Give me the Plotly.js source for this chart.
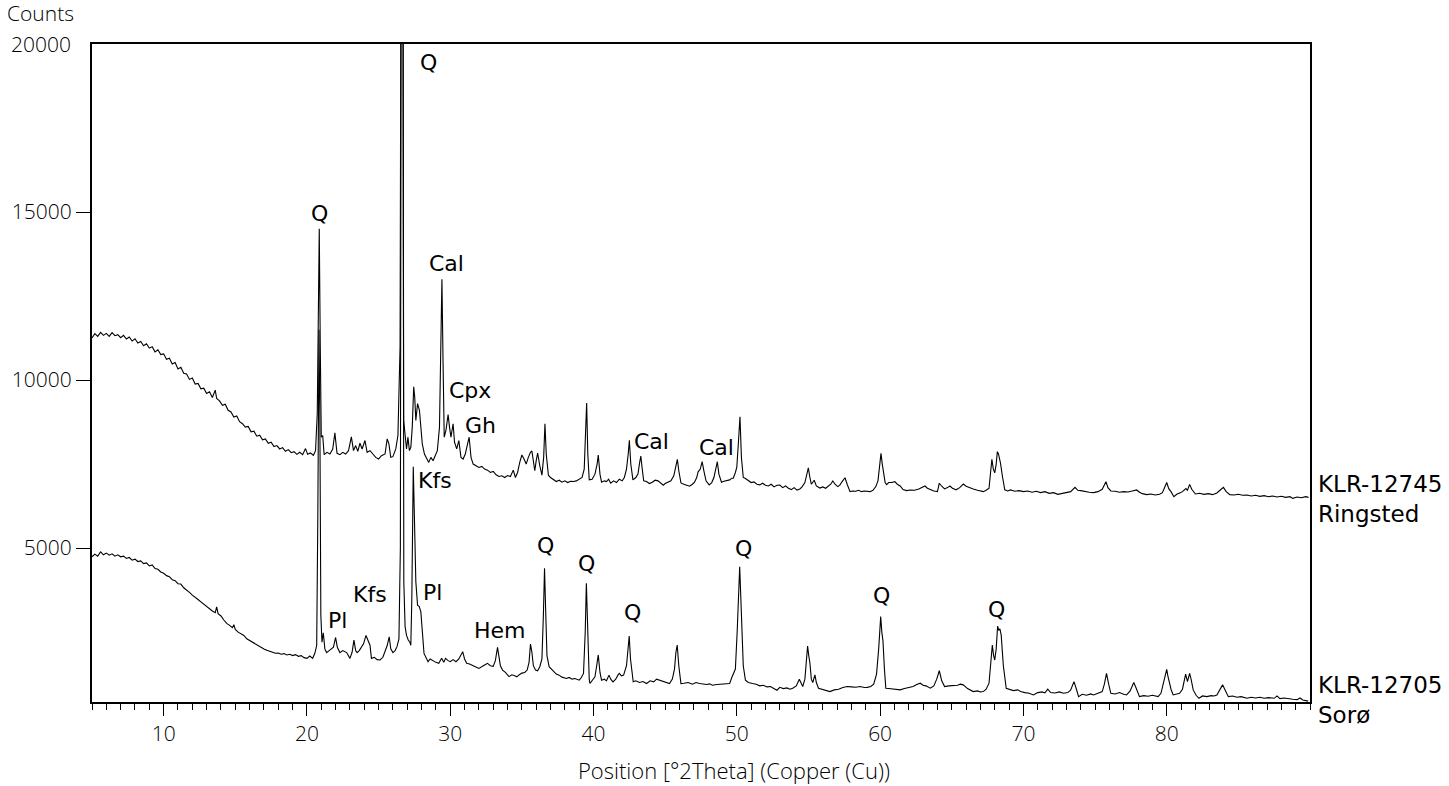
<!DOCTYPE html>
<html>
<head>
<meta charset="utf-8">
<script src="https://cdn.plot.ly/plotly-3.0.1.min.js"></script>
<style>
  html, body { margin: 0; padding: 0; background: #fff; }
  #xrd { width: 1449px; height: 786px; }
</style>
</head>
<body>
<div id="xrd"></div>
<script>
// Ringsted scan (KLR-12745), [2theta, counts]
let ringsted = [
  [5.0,11250],[5.2,11380],[5.4,11300],[5.6,11420],[5.8,11330],[6.0,11390],[6.2,11300],[6.4,11410],
  [6.6,11320],[6.8,11350],[7.0,11260],[7.2,11330],[7.4,11220],[7.6,11280],[7.8,11160],[8.0,11230],
  [8.2,11100],[8.4,11150],[8.6,11020],[8.8,11080],[9.0,10950],[9.2,10990],[9.4,10840],[9.6,10900],
  [9.8,10760],[10.0,10780],[10.2,10620],[10.4,10650],[10.6,10480],[10.8,10520],[11.0,10330],[11.2,10380],
  [11.4,10200],[11.6,10180],[11.8,10020],[12.0,10060],[12.2,9880],[12.4,9900],[12.6,9740],[12.8,9760],
  [13.0,9600],[13.2,9650],[13.4,9480],[13.6,9700],[13.7,9450],[13.9,9380],[14.1,9250],[14.3,9280],
  [14.5,9100],[14.7,9050],[14.9,8900],[15.1,8930],[15.3,8760],[15.5,8700],[15.7,8600],[15.9,8620],
  [16.1,8460],[16.3,8480],[16.5,8330],[16.7,8360],[16.9,8220],[17.1,8250],[17.3,8120],[17.5,8150],
  [17.7,8020],[17.9,8050],[18.1,7950],[18.3,7990],[18.5,7880],[18.7,7930],[18.9,7840],[19.1,7870],
  [19.3,7790],[19.5,7850],[19.7,7780],[19.9,7960],[20.05,7790],[20.25,7830],[20.45,7760],[20.6,7900],
  [20.72,9000],[20.8,12500],[20.86,14500],[20.93,11000],[21.0,8300],[21.1,8350],[21.2,7780],[21.4,7850],
  [21.6,7800],[21.8,7950],[21.95,8430],[22.1,7820],[22.3,7780],[22.5,7850],[22.7,7800],[22.9,7900],
  [23.1,8310],[23.25,7900],[23.4,8050],[23.55,7880],[23.7,8120],[23.85,7950],[24.05,8200],[24.2,7850],
  [24.4,7900],[24.6,7800],[24.8,7700],[25.0,7650],[25.2,7750],[25.45,7800],[25.6,8250],[25.72,8100],
  [25.85,7700],[26.0,7720],[26.2,7950],[26.35,8350],[26.5,11000],[26.6,30000],[26.68,30000],[26.75,8800],
  [26.85,8400],[26.95,7950],[27.05,8300],[27.15,7900],[27.25,8000],[27.35,8600],[27.45,9800],[27.52,9500],
  [27.6,8800],[27.72,9300],[27.85,9100],[27.95,8500],[28.05,8100],[28.2,7800],[28.35,7650],[28.5,7550],
  [28.65,7700],[28.8,7600],[28.95,7750],[29.1,7900],[29.25,8600],[29.36,11500],[29.42,13000],[29.5,10500],
  [29.58,8300],[29.7,8500],[29.85,8970],[29.95,8600],[30.05,8300],[30.2,8700],[30.3,8150],[30.45,7950],
  [30.6,8200],[30.75,7700],[30.9,7650],[31.05,7800],[31.2,8100],[31.32,8300],[31.45,7700],[31.6,7500],
  [31.8,7450],[32.0,7400],[32.2,7430],[32.4,7350],[32.6,7320],[32.8,7250],[33.0,7280],[33.2,7180],
  [33.4,7130],[33.6,7150],[33.8,7100],[34.0,7160],[34.2,7130],[34.4,7320],[34.55,7100],[34.7,7250],
  [34.85,7550],[35.0,7770],[35.15,7650],[35.3,7500],[35.45,7700],[35.6,7850],[35.7,7890],[35.82,7500],
  [35.9,7300],[36.0,7600],[36.1,7830],[36.25,7450],[36.4,7170],[36.52,7700],[36.61,8700],[36.7,7800],
  [36.85,7170],[37.0,7100],[37.2,7050],[37.4,6980],[37.6,7020],[37.8,6960],[38.0,7000],[38.2,6950],
  [38.4,6990],[38.6,6980],[38.8,7000],[39.0,7060],[39.2,7100],[39.35,7350],[39.45,8500],[39.52,9320],
  [39.6,7800],[39.7,7030],[39.9,7050],[40.1,7200],[40.25,7500],[40.33,7770],[40.45,7200],[40.56,6960],
  [40.75,7000],[40.9,6980],[41.05,7050],[41.2,6930],[41.4,7000],[41.6,6950],[41.8,7050],[42.0,7000],
  [42.15,7100],[42.3,7350],[42.42,7800],[42.5,8210],[42.6,7500],[42.75,7030],[42.95,7100],[43.1,7200],
  [43.22,7550],[43.3,7740],[43.4,7350],[43.5,7000],[43.7,6980],[43.9,6920],[44.1,6960],[44.3,7020],
  [44.5,7000],[44.7,6930],[44.87,6870],[45.0,6920],[45.2,6970],[45.4,7000],[45.6,7150],[45.75,7400],
  [45.85,7640],[45.95,7300],[46.1,6940],[46.3,6900],[46.5,6870],[46.7,6840],[46.9,6900],[47.05,6960],
  [47.2,7100],[47.3,7270],[47.45,7350],[47.58,7570],[47.7,7300],[47.85,7000],[48.07,6880],[48.25,6950],
  [48.4,7100],[48.55,7400],[48.64,7570],[48.75,7200],[48.93,6960],[49.1,6990],[49.3,7000],[49.5,7030],
  [49.65,7080],[49.75,7080],[49.9,7250],[50.0,7410],[50.12,8200],[50.22,8910],[50.32,7700],[50.45,7100],
  [50.6,7070],[50.8,7000],[51.0,6950],[51.2,6970],[51.4,6900],[51.6,6880],[51.8,6930],[52.0,6870],
  [52.2,6850],[52.4,6900],[52.6,6820],[52.8,6870],[53.0,6876],[53.2,6800],[53.4,6850],[53.6,6780],
  [53.8,6740],[54.0,6800],[54.2,6727],[54.4,6760],[54.55,6820],[54.75,6950],[54.9,7250],[54.99,7390],
  [55.1,7100],[55.2,6900],[55.4,7020],[55.55,6850],[55.8,6786],[56.0,6820],[56.2,6780],[56.4,6850],
  [56.55,6900],[56.7,6995],[56.85,6900],[57.05,6830],[57.2,6880],[57.35,6980],[57.55,7094],[57.7,6900],
  [57.9,6680],[58.1,6700],[58.3,6690],[58.5,6720],[58.7,6680],[58.9,6700],[59.1,6690],[59.3,6680],
  [59.5,6720],[59.7,6830],[59.85,7000],[59.95,7500],[60.06,7820],[60.15,7500],[60.25,7200],[60.35,6950],
  [60.45,6890],[60.6,6950],[60.8,6950],[61.03,6975],[61.2,6900],[61.4,6850],[61.6,6740],[61.85,6710],
  [62.1,6730],[62.4,6720],[62.7,6760],[62.95,6800],[63.13,6847],[63.3,6780],[63.5,6740],[63.75,6700],
  [64.0,6680],[64.13,6930],[64.3,6840],[64.5,6760],[64.7,6800],[64.87,6847],[65.05,6780],[65.3,6735],
  [65.55,6800],[65.81,6906],[66.0,6840],[66.27,6785],[66.5,6760],[66.8,6720],[67.0,6700],[67.2,6680],
  [67.4,6720],[67.6,6780],[67.72,7300],[67.8,7640],[67.9,7350],[68.0,7240],[68.1,7500],[68.18,7870],
  [68.26,7800],[68.4,7530],[68.55,7100],[68.7,6735],[68.9,6700],[69.1,6730],[69.4,6690],[69.7,6710],
  [70.0,6680],[70.3,6700],[70.6,6660],[70.9,6690],[71.2,6650],[71.5,6680],[71.8,6630],[72.1,6650],
  [72.4,6600],[72.7,6630],[73.0,6640],[73.3,6680],[73.6,6806],[73.8,6720],[74.0,6710],[74.3,6680],
  [74.6,6660],[74.9,6650],[75.2,6680],[75.5,6750],[75.76,6975],[75.9,6800],[76.1,6700],[76.4,6690],
  [76.7,6660],[77.0,6680],[77.3,6670],[77.6,6700],[77.9,6730],[78.1,6660],[78.3,6620],[78.6,6590],
  [78.9,6610],[79.2,6580],[79.5,6600],[79.7,6650],[79.85,6800],[80.0,6950],[80.15,6760],[80.3,6680],
  [80.5,6530],[80.7,6600],[80.9,6640],[81.1,6680],[81.34,6770],[81.45,6720],[81.6,6896],[81.75,6750],
  [82.0,6610],[82.3,6630],[82.6,6600],[82.9,6620],[83.2,6590],[83.5,6640],[83.8,6750],[83.96,6806],
  [84.15,6680],[84.4,6590],[84.7,6580],[85.0,6600],[85.3,6570],[85.6,6580],[85.9,6550],[86.2,6570],
  [86.5,6540],[86.8,6560],[87.1,6530],[87.4,6550],[87.7,6520],[88.0,6540],[88.3,6510],[88.6,6530],
  [88.8,6480],[89.1,6520],[89.4,6500],[89.7,6530],[89.9,6510]
]

// Soro scan (KLR-12705)
let soro = [
  [5.0,4742],[5.2,4820],[5.4,4760],[5.6,4890],[5.8,4800],[6.0,4850],[6.2,4790],[6.4,4830],
  [6.6,4760],[6.8,4800],[7.0,4740],[7.2,4760],[7.4,4690],[7.6,4720],[7.8,4640],[8.0,4670],
  [8.2,4600],[8.4,4620],[8.6,4540],[8.8,4560],[9.0,4470],[9.2,4500],[9.4,4390],[9.6,4370],
  [9.8,4290],[10.0,4250],[10.2,4180],[10.4,4150],[10.6,4060],[10.8,4030],[11.0,3940],[11.2,3930],
  [11.4,3820],[11.6,3760],[11.8,3680],[12.0,3600],[12.2,3520],[12.4,3470],[12.6,3400],[12.8,3330],
  [13.0,3260],[13.2,3200],[13.4,3130],[13.6,3080],[13.7,3250],[13.8,3050],[14.0,2980],[14.2,2860],
  [14.4,2760],[14.6,2700],[14.8,2630],[14.9,2720],[15.0,2580],[15.2,2500],[15.4,2440],[15.6,2400],
  [15.8,2300],[16.0,2250],[16.2,2180],[16.4,2130],[16.6,2080],[16.8,2030],[17.0,2000],[17.2,1960],
  [17.4,1920],[17.6,1900],[17.8,1870],[18.0,1880],[18.2,1840],[18.4,1860],[18.6,1820],[18.8,1840],
  [19.0,1800],[19.2,1830],[19.4,1780],[19.6,1800],[19.8,1740],[20.0,1720],[20.2,1790],[20.4,1720],
  [20.55,1870],[20.68,2100],[20.76,6000],[20.84,11500],[20.9,9000],[20.97,3000],[21.05,2200],[21.14,2480],
  [21.25,2000],[21.37,1890],[21.55,1950],[21.7,2000],[21.85,2050],[22.0,2340],[22.12,2050],[22.3,1890],
  [22.5,1950],[22.77,1890],[23.0,1718],[23.15,1900],[23.28,2260],[23.4,1950],[23.5,1890],[23.65,1950],
  [23.8,2040],[23.95,2150],[24.12,2400],[24.25,2250],[24.4,2110],[24.5,1718],[24.7,1750],[24.9,1680],
  [25.1,1670],[25.3,1750],[25.44,1890],[25.6,2100],[25.74,2360],[25.85,2000],[26.0,1890],[26.15,1950],
  [26.28,2060],[26.42,2300],[26.52,5000],[26.6,30000],[26.68,30000],[26.76,4000],[26.85,2660],[26.95,2400],
  [27.07,2264],[27.18,2200],[27.25,2110],[27.32,3500],[27.42,7420],[27.5,6000],[27.6,4000],[27.72,3300],
  [27.84,3257],[27.95,3100],[28.05,2500],[28.17,1866],[28.3,1750],[28.45,1620],[28.6,1700],[28.8,1640],
  [29.0,1600],[29.2,1570],[29.4,1720],[29.55,1600],[29.67,1720],[29.85,1650],[30.0,1620],[30.2,1680],
  [30.4,1620],[30.6,1700],[30.75,1800],[30.87,1916],[31.0,1700],[31.15,1570],[31.35,1550],[31.55,1500],
  [31.75,1470],[32.0,1420],[32.2,1480],[32.4,1520],[32.6,1570],[32.8,1500],[33.0,1480],[33.15,1650],
  [33.3,2045],[33.4,1700],[33.5,1500],[33.65,1370],[33.85,1300],[34.1,1175],[34.3,1230],[34.5,1200],
  [34.65,1170],[34.8,1225],[35.0,1280],[35.2,1300],[35.37,1370],[35.5,1600],[35.6,2145],[35.7,1900],
  [35.8,1500],[35.95,1370],[36.1,1350],[36.25,1470],[36.4,1700],[36.5,3000],[36.58,4400],[36.66,3150],
  [36.75,1800],[36.9,1470],[37.05,1400],[37.2,1320],[37.4,1250],[37.6,1220],[37.8,1160],[38.1,1120],
  [38.3,1150],[38.5,1100],[38.7,1120],[39.0,1070],[39.15,1150],[39.3,1270],[39.42,2500],[39.5,3950],
  [39.58,2510],[39.7,1100],[39.75,970],[39.9,1050],[40.1,1170],[40.22,1500],[40.33,1820],[40.45,1300],
  [40.56,1070],[40.75,1100],[40.9,1050],[41.08,1220],[41.2,1100],[41.36,1020],[41.55,1100],[41.7,1220],
  [41.8,1270],[41.95,1200],[42.1,1220],[42.3,1500],[42.42,2000],[42.49,2380],[42.58,1700],[42.77,1020],
  [42.95,1050],[43.2,1000],[43.45,1030],[43.7,970],[43.95,1050],[44.2,1020],[44.4,1100],[44.6,1070],
  [44.85,1050],[45.05,1020],[45.3,970],[45.5,1100],[45.65,1400],[45.75,1900],[45.84,2115],[45.95,1500],
  [46.1,970],[46.3,980],[46.6,1000],[46.9,950],[47.15,1000],[47.4,970],[47.65,950],[47.9,940],
  [48.1,960],[48.3,920],[48.6,940],[48.9,950],[49.2,960],[49.4,980],[49.5,970],[49.65,1150],
  [49.75,1270],[49.9,1400],[50.03,2560],[50.12,3800],[50.2,4445],[50.28,3500],[50.36,2660],[50.45,1500],
  [50.6,1070],[50.8,1000],[51.1,970],[51.35,950],[51.6,900],[51.85,920],[52.1,870],[52.35,880],
  [52.55,830],[52.8,770],[53.0,856],[53.25,820],[53.5,840],[53.7,800],[53.9,830],[54.15,900],
  [54.36,1095],[54.5,950],[54.6,880],[54.75,1100],[54.85,1700],[54.94,2085],[55.02,1800],[55.1,1580],
  [55.2,1100],[55.3,1000],[55.45,1230],[55.55,1000],[55.7,830],[55.9,800],[56.2,760],[56.5,730],
  [56.8,780],[57.1,800],[57.4,850],[57.7,880],[58.0,870],[58.3,860],[58.6,880],[58.9,850],
  [59.1,856],[59.35,880],[59.55,950],[59.75,1250],[59.9,2000],[60.04,2960],[60.12,2500],[60.2,2230],
  [60.3,1400],[60.4,830],[60.6,820],[60.9,800],[61.15,790],[61.4,780],[61.7,820],[62.0,850],
  [62.3,880],[62.55,940],[62.8,980],[63.0,920],[63.2,900],[63.5,830],[63.75,900],[63.95,1100],
  [64.13,1350],[64.3,1050],[64.5,880],[64.8,900],[65.1,900],[65.4,920],[65.6,950],[65.8,930],
  [66.1,820],[66.5,730],[66.8,750],[67.0,720],[67.2,730],[67.4,800],[67.6,980],[67.72,1700],
  [67.83,2115],[67.92,1800],[68.0,1670],[68.1,2000],[68.2,2680],[68.28,2550],[68.36,2600],[68.45,2410],
  [68.6,1500],[68.8,830],[69.0,800],[69.3,760],[69.6,780],[69.8,730],[70.1,700],[70.4,680],
  [70.7,630],[71.0,700],[71.3,720],[71.5,690],[71.7,800],[71.9,700],[72.2,690],[72.5,720],
  [72.8,680],[73.1,700],[73.3,780],[73.53,1025],[73.7,800],[73.85,580],[74.1,650],[74.4,620],
  [74.7,660],[74.9,630],[75.2,680],[75.5,730],[75.65,950],[75.8,1270],[75.95,950],[76.1,680],
  [76.4,660],[76.7,700],[77.0,650],[77.2,630],[77.45,750],[77.7,1000],[77.85,850],[78.1,580],
  [78.4,610],[78.7,590],[79.0,620],[79.2,590],[79.4,580],[79.6,680],[79.8,1030],[79.92,1300],
  [80.0,1390],[80.08,1200],[80.15,1050],[80.3,800],[80.45,630],[80.7,660],[80.9,680],[81.1,800],
  [81.25,1150],[81.32,1250],[81.45,1030],[81.55,1200],[81.6,1270],[81.7,1100],[81.85,780],[82.05,620],
  [82.25,530],[82.5,600],[82.8,580],[83.1,610],[83.3,600],[83.5,630],[83.7,800],[83.9,930],
  [84.05,800],[84.3,580],[84.6,600],[84.9,560],[85.2,580],[85.6,530],[85.9,560],[86.2,540],
  [86.5,560],[86.8,530],[87.1,550],[87.5,530],[87.7,600],[87.9,520],[88.2,540],[88.5,510],
  [88.8,500],[89.1,490],[89.3,540],[89.5,480],[89.87,445]
]

// phase labels and where they sit (2theta, counts)
let peakNames = ['Q','Q','Cal','Cpx','Gh','Cal','Cal','Kfs','Pl','Kfs','Pl','Hem','Q','Q','Q','Q','Q','Q']
let peakSpots = [
  [20.91,14970],[28.45,19435],[29.77,13483],[31.38,9703],[32.08,8661],[44.08,8185],[48.55,8007],
  [28.94,7025],[22.10,2858],[24.40,3632],[28.73,3692],[33.47,2561],[36.68,5090],[39.54,4554],
  [42.75,3096],[50.5,5001],[60.13,3603],[68.15,3185]
]
let sampleNames = ['KLR-12745<br>Ringsted', 'KLR-12705<br>Sorø']
let sampleLevels = [6459, 477]
let xTicks = [10, 20, 30, 40, 50, 60, 70, 80]
let yTicks = [5000, 10000, 15000]

let tickFont = {family: 'Open Sans', size: 21, color: '#000', weight: 300}
let labelFont = {family: 'DejaVu Sans', size: 22, color: '#000'}

// Create the two traces
let trace1 = {
  x: ringsted.map(p => p[0]),
  y: ringsted.map(p => p[1]),
  mode: 'lines',
  line: {color: '#000', width: 1.1},
  hoverinfo: 'skip'
}
let trace2 = {
  x: soro.map(p => p[0]),
  y: soro.map(p => p[1]),
  mode: 'lines',
  line: {color: '#000', width: 1.1},
  hoverinfo: 'skip'
}

let notes = []
for (let i = 0; i < peakNames.length; i++) {
  notes.push({
    x: peakSpots[i][0], y: peakSpots[i][1], xref: 'x', yref: 'y',
    text: peakNames[i], showarrow: false, font: labelFont
  })
}
for (let i = 0; i < sampleNames.length; i++) {
  notes.push({
    x: 1.005, xref: 'paper', xanchor: 'left', y: sampleLevels[i], yref: 'y',
    text: sampleNames[i], align: 'left', showarrow: false,
    font: {family: 'DejaVu Sans', size: 23, color: '#000'}
  })
}
// axis captions and top value
notes.push({x: -0.0714, xref: 'paper', xanchor: 'left', y: 1.047, yref: 'paper', yanchor: 'middle',
  text: 'Counts', showarrow: false, font: tickFont})
notes.push({x: -0.016, xref: 'paper', xanchor: 'right', y: 20000, yref: 'y', yanchor: 'middle',
  text: '20000', showarrow: false, font: tickFont})
notes.push({x: 0.527, xref: 'paper', xanchor: 'center', y: -0.103, yref: 'paper', yanchor: 'middle',
  text: 'Position [°2Theta] (Copper (Cu))', showarrow: false,
  font: {family: 'Open Sans', size: 22, color: '#000', weight: 300}})

let layout = {
  width: 1449, height: 786,
  margin: {l: 92, r: 139, t: 44, b: 84},
  paper_bgcolor: '#fff', plot_bgcolor: '#fff',
  showlegend: false,
  xaxis: {
    range: [5, 90], tickvals: xTicks, ticks: 'outside', ticklen: 12, tickwidth: 1, tickcolor: '#000',
    minor: {dtick: 1, tick0: 0, ticks: 'outside', ticklen: 6, tickwidth: 1, tickcolor: '#000', showgrid: false},
    showline: true, linewidth: 2, linecolor: '#000', mirror: true,
    showgrid: false, zeroline: false, tickfont: tickFont
  },
  yaxis: {
    range: [420, 20000], tickvals: yTicks, ticktext: yTicks.map(String),
    ticks: 'outside', ticklen: 14, tickwidth: 1, tickcolor: '#000',
    showline: true, linewidth: 2, linecolor: '#000', mirror: true,
    showgrid: false, zeroline: false, tickfont: tickFont
  },
  annotations: notes
}

Plotly.newPlot('xrd', [trace1, trace2], layout, {staticPlot: true})
</script>
</body>
</html>
